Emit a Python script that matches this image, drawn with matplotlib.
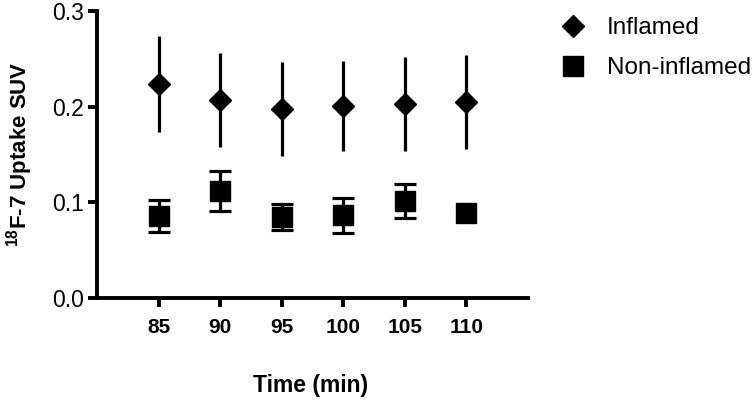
import matplotlib
matplotlib.use("Agg")
import matplotlib.pyplot as plt

plt.rcParams['font.family'] = ['Liberation Sans', 'DejaVu Sans']
plt.rcParams['mathtext.fontset'] = 'custom'
plt.rcParams['mathtext.rm'] = 'Liberation Sans'
plt.rcParams['mathtext.bf'] = 'Liberation Sans:bold'

# data
times = [85, 90, 95, 100, 105, 110]
inflamed = [0.224, 0.207, 0.198, 0.201, 0.203, 0.205]
inflamed_err = [0.050, 0.049, 0.049, 0.047, 0.049, 0.049]
noninflamed = [0.0855, 0.112, 0.0845, 0.0865, 0.1015, 0.089]
noninflamed_err = [0.0165, 0.021, 0.0135, 0.018, 0.0178, 0.0]

fig = plt.figure(figsize=(7.52, 4.03), dpi=100)
ax = fig.add_axes([0.129, 0.2605, 0.573, 0.712])

# Inflamed: no caps on the bars
ax.errorbar(times, inflamed, yerr=inflamed_err, fmt='none', ecolor='black',
            elinewidth=2.3, capsize=0, zorder=2)
ax.plot(times, inflamed, 'D', color='black', markersize=11, label='Inflamed', zorder=3)

# Non-inflamed: last point has no visible bar
has_err = [e > 0 for e in noninflamed_err]
ax.errorbar([t for t, k in zip(times, has_err) if k],
            [v for v, k in zip(noninflamed, has_err) if k],
            yerr=[e for e, k in zip(noninflamed_err, has_err) if k],
            fmt='none', ecolor='black', elinewidth=2.3, capsize=8, capthick=2.3, zorder=2)
ax.plot(times, noninflamed, 's', color='black', markersize=14, label='Non-inflamed', zorder=3)

ax.set_xlim(80, 115)
ax.set_ylim(0, 0.3)
ax.set_xticks(times)
ax.set_yticks([0.0, 0.1, 0.2, 0.3])
ax.set_yticklabels(['0.0', '0.1', '0.2', '0.3'], fontsize=16.5)
ax.set_xticklabels([str(t) for t in times], fontsize=15, fontweight='bold')

for s in ['top', 'right']:
    ax.spines[s].set_visible(False)
for s in ['left', 'bottom']:
    ax.spines[s].set_linewidth(2.8)
ax.tick_params(width=2.8, length=6.5, direction='out')
ax.tick_params(axis='x', pad=8)
ax.tick_params(axis='y', pad=3)

ax.set_xlabel('Time (min)', fontsize=16.5, fontweight='bold')
ax.xaxis.set_label_coords(0.495, -0.265)
ax.set_ylabel('$^{\\mathbf{18}}$F-7 Uptake SUV', fontsize=16, fontweight='bold')
ax.yaxis.set_label_coords(-0.145, 0.5)

fig.legend(loc='upper left', bbox_to_anchor=(0.72, 1.0),
           frameon=False, fontsize=17.5, handletextpad=0.8, labelspacing=0.75,
           handlelength=1.2, borderaxespad=0.3)

fig.savefig('out.png', dpi=100)
